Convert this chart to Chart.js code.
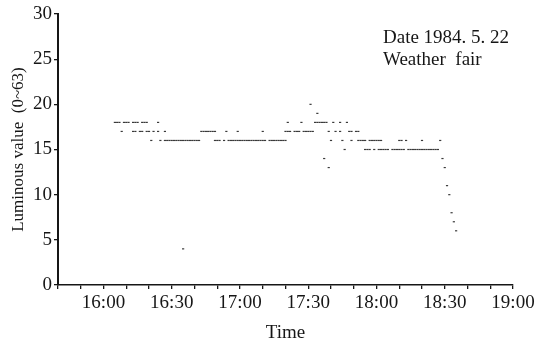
<!DOCTYPE html>
<html>
<head>
<meta charset="utf-8">
<script src="https://cdn.jsdelivr.net/npm/chart.js@4/dist/chart.umd.min.js"></script>
<style>
  html, body { margin: 0; padding: 0; background: #fff; }
  #wrap { width: 547px; height: 344px; }
</style>
</head>
<body>
<div id="wrap"><canvas id="chart"></canvas></div>
<script>
// Luminous value readings, grouped by level (time of each reading)
const at18 = ['16:05', '16:06', '16:07', '16:09', '16:10', '16:11', '16:13', '16:14', '16:15', '16:17',
  '16:18', '16:19', '16:24', '17:21', '17:27', '17:33', '17:34', '17:35', '17:36', '17:37', '17:38',
  '17:41', '17:44', '17:47'];
const at17 = ['16:08', '16:13', '16:14', '16:16', '16:17', '16:19', '16:20', '16:22', '16:24', '16:27',
  '16:43', '16:44', '16:45', '16:46', '16:47', '16:48', '16:49', '16:54', '16:59', '17:10',
  '17:20', '17:21', '17:22', '17:24', '17:25', '17:26', '17:28', '17:29', '17:30', '17:31', '17:32',
  '17:39', '17:42', '17:44', '17:48', '17:49', '17:51', '17:52'];
const at16 = ['16:21', '16:25', '16:27', '16:28', '16:29', '16:30', '16:31', '16:32', '16:33', '16:34',
  '16:35', '16:36', '16:37', '16:38', '16:39', '16:40', '16:41', '16:42', '16:49', '16:50', '16:51',
  '16:53', '16:55', '16:56', '16:57', '16:58', '16:59', '17:00', '17:01', '17:02', '17:03', '17:04',
  '17:05', '17:06', '17:07', '17:08', '17:09', '17:10', '17:11', '17:13', '17:14', '17:15', '17:16',
  '17:17', '17:18', '17:19', '17:20', '17:40', '17:45', '17:49', '17:52', '17:53', '17:54', '17:55',
  '17:57', '17:58', '17:59', '18:00', '18:01', '18:02', '18:10', '18:11', '18:13', '18:20', '18:28'];
const at15 = ['17:46', '17:55', '17:56', '17:57', '17:59', '18:01', '18:02', '18:03', '18:04', '18:05',
  '18:07', '18:08', '18:09', '18:10', '18:11', '18:12', '18:14', '18:15', '18:16', '18:17', '18:18',
  '18:19', '18:20', '18:21', '18:22', '18:23', '18:24', '18:25', '18:26', '18:27'];
// isolated readings and the drop after sunset
const otherTimes = ['16:35', '17:31', '17:34', '17:37', '17:39', '18:29', '18:30', '18:31', '18:32', '18:33', '18:34', '18:35'];
const otherValues = [4, 20, 19, 14, 13, 14, 13, 11, 10, 8, 7, 6];

const yTicks = [0, 5, 10, 15, 20, 25, 30];

const toMin = s => { const [h, m] = s.split(':').map(Number); return h * 60 + m; };
const fmt = v => Math.floor(v / 60) + ':' + String(v % 60).padStart(2, '0');

const points = [];
[[at18, 18], [at17, 17], [at16, 16], [at15, 15]].forEach(([list, val]) => {
  list.forEach(t => points.push({ x: toMin(t), y: val }));
});
otherTimes.forEach((t, i) => points.push({ x: toMin(t), y: otherValues[i] }));

const INK = '#161616';
const DOT = '#3a3a3a';
const SERIF = '"Liberation Serif", "Times New Roman", serif';

Chart.defaults.font.family = SERIF;
Chart.defaults.color = INK;

// Date / weather note in the upper right of the plot
const notePlugin = {
  id: 'note',
  afterDraw(chart) {
    const ctx = chart.ctx;
    ctx.save();
    ctx.font = '19px ' + SERIF;
    ctx.fillStyle = INK;
    ctx.textBaseline = 'alphabetic';
    ctx.fillText('Date 1984. 5. 22', 383, 43);
    ctx.fillText('Weather  fair', 383, 65);
    ctx.restore();
  },
};

new Chart(document.getElementById('chart'), {
  type: 'scatter',
  data: {
    datasets: [{
      data: points,
      pointStyle: 'line',
      pointRadius: 1.1,
      pointHoverRadius: 1.1,
      borderWidth: 1.2,
      borderColor: DOT,
      backgroundColor: DOT,
    }],
  },
  options: {
    responsive: true,
    maintainAspectRatio: false,
    animation: false,
    events: [],
    layout: { padding: { top: 14, right: 34, left: 0, bottom: 0 } },
    plugins: { legend: { display: false }, tooltip: { enabled: false } },
    scales: {
      x: {
        type: 'linear',
        min: 940,
        max: 1140,
        afterFit: s => { s.height = 59; },
        border: { color: INK, width: 1.5 },
        grid: { drawOnChartArea: false, drawTicks: true, tickLength: 4, color: INK, lineWidth: 1.3 },
        ticks: {
          stepSize: 10,
          autoSkip: false,
          maxRotation: 0,
          padding: 3,
          font: { size: 19 },
          callback: v => (v % 30 === 0 && v >= 960 ? fmt(v) : ''),
        },
        title: { display: true, text: 'Time', font: { size: 19 }, padding: 0 },
      },
      y: {
        min: 0,
        max: 30,
        afterFit: s => { s.width = 58; },
        afterBuildTicks: s => { s.ticks = yTicks.map(v => ({ value: v })); },
        border: { color: INK, width: 2 },
        grid: { drawOnChartArea: false, drawTicks: true, tickLength: 4, color: INK, lineWidth: 1.3 },
        ticks: { padding: 2, font: { size: 19 } },
        title: { display: true, text: 'Luminous value  (0~63)', font: { size: 17 }, padding: { top: 8, bottom: 0 } },
      },
    },
  },
  plugins: [notePlugin],
});
</script>
</body>
</html>
